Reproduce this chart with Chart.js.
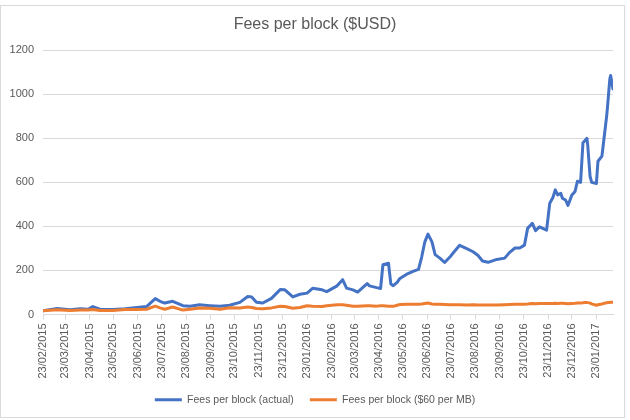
<!DOCTYPE html>
<html><head><meta charset="utf-8">
<script src="https://cdn.jsdelivr.net/npm/chart.js@4/dist/chart.umd.min.js"></script>
<style>html,body{margin:0;padding:0;background:#fff}</style>
</head><body>
<canvas id="c" width="630" height="420"></canvas>
<script>
const tickLabels = ["23/02/2015","23/03/2015","23/04/2015","23/05/2015","23/06/2015","23/07/2015","23/08/2015","23/09/2015","23/10/2015","23/11/2015","23/12/2015","23/01/2016","23/02/2016","23/03/2016","23/04/2016","23/05/2016","23/06/2016","23/07/2016","23/08/2016","23/09/2016","23/10/2016","23/11/2016","23/12/2016","23/01/2017"];

const dates = ["2015-02-23","2015-03-13","2015-03-29","2015-04-11","2015-04-21","2015-04-27","2015-05-06","2015-05-22","2015-06-07","2015-06-22",
"2015-07-04","2015-07-15","2015-07-21","2015-07-27","2015-08-06","2015-08-19","2015-08-28","2015-09-09","2015-09-22","2015-10-05",
"2015-10-17","2015-10-30","2015-11-09","2015-11-14","2015-11-20","2015-11-28","2015-12-09","2015-12-20","2015-12-26","2016-01-05",
"2016-01-14","2016-01-23","2016-01-30","2016-02-11","2016-02-17","2016-03-01","2016-03-08","2016-03-13","2016-03-21","2016-03-27",
"2016-04-08","2016-04-11","2016-04-20","2016-04-25","2016-04-28","2016-05-05","2016-05-08","2016-05-11","2016-05-16","2016-05-19",
"2016-05-29","2016-06-05","2016-06-12","2016-06-16","2016-06-20","2016-06-24","2016-06-29","2016-07-03","2016-07-09","2016-07-15",
"2016-07-22","2016-07-25","2016-08-03","2016-08-12","2016-08-20","2016-08-26","2016-09-01","2016-09-08","2016-09-19","2016-09-29",
"2016-10-05","2016-10-12","2016-10-18","2016-10-24","2016-10-28","2016-11-03","2016-11-07","2016-11-12","2016-11-21","2016-11-25",
"2016-11-29","2016-12-02","2016-12-05","2016-12-09","2016-12-11","2016-12-15","2016-12-18","2016-12-23","2016-12-27","2016-12-30",
"2017-01-03","2017-01-06","2017-01-08","2017-01-11","2017-01-12","2017-01-15","2017-01-17","2017-01-23","2017-01-25","2017-01-30",
"2017-02-01","2017-02-05","2017-02-06","2017-02-09","2017-02-10","2017-02-13"];

const actual = [17,27,22,26,24,36,24,23,26,32,
36,72,60,52,60,40,37,44,40,37,
42,55,82,80,56,52,73,113,112,80,
92,97,119,112,104,130,158,120,112,102,
140,130,122,118,226,233,138,131,146,162,
185,196,205,261,330,365,330,272,256,236,
262,276,314,299,285,269,243,237,250,256,
281,302,302,315,391,414,381,398,383,505,
531,566,543,550,528,520,495,543,559,605,
600,780,787,800,770,627,600,595,696,719,
780,902,940,1070,1085,1024];

const capped = [17,22,18,20,20,23,18,18,23,23,
24,38,30,24,34,20,24,30,28,24,
31,30,34,32,27,26,30,37,36,28,
32,40,38,36,40,44,44,42,37,37,
40,40,38,40,40,38,37,37,42,45,
46,46,47,48,50,52,48,47,46,45,
44,44,44,43,44,43,43,43,43,44,
45,46,46,47,48,50,49,50,50,50,
50,51,50,51,51,50,49,50,51,52,
52,53,54,55,54,52,48,42,44,48,
50,53,54,55,56,56];

const seriesNames = ["Fees per block (actual)", "Fees per block ($60 per MB)"];
const chartTitle = "Fees per block ($USD)";

const DAY = 86400000;
const t0 = Date.UTC(2015, 1, 23);
const fromIso = s => { const [y,m,d] = s.split('-').map(Number); return (Date.UTC(y,m-1,d) - t0) / DAY; };
const fromDmy = s => { const [d,m,y] = s.split('/').map(Number); return (Date.UTC(y,m-1,d) - t0) / DAY; };
const tickPos = tickLabels.map(fromDmy);
const xs = dates.map(fromIso);

const F = "'Liberation Sans', Arial, sans-serif";
const TXT = '#595959';
const GRID = '#d9d9d9';

const frame = {
  id: 'frame',
  beforeDraw(chart) {
    const c = chart.ctx;
    c.save();
    c.fillStyle = '#fff';
    c.fillRect(0, 0, chart.width, chart.height);
    c.strokeStyle = GRID;
    c.lineWidth = 1;
    c.strokeRect(0.5, 5.5, 624, 412);
    c.restore();
  }
};

new Chart(document.getElementById('c'), {
  type: 'line',
  data: {
    datasets: [
      { label: seriesNames[0], data: xs.map((x,i) => ({x, y: actual[i]})), borderColor: '#4472C4', backgroundColor: '#4472C4', borderWidth: 3, pointRadius: 0, tension: 0, borderJoinStyle: 'round', borderCapStyle: 'round', order: 1 },
      { label: seriesNames[1], data: xs.map((x,i) => ({x, y: capped[i]})), borderColor: '#ED7D31', backgroundColor: '#ED7D31', borderWidth: 3, pointRadius: 0, tension: 0, borderJoinStyle: 'round', borderCapStyle: 'round', order: 0 }
    ]
  },
  options: {
    responsive: false,
    animation: false,
    devicePixelRatio: 1,
    layout: { padding: { top: 4, right: 0, bottom: 5, left: 0 } },
    plugins: {
      tooltip: { enabled: false },
      title: { display: true, text: chartTitle, color: TXT, font: { family: F, size: 16, weight: 'normal' }, padding: { top: 11, bottom: 16 } },
      legend: {
        position: 'bottom',
        labels: {
          boxWidth: 27, boxHeight: 3, padding: 16, color: TXT,
          font: { family: F, size: 10.5 },
          generateLabels(chart) {
            return chart.data.datasets.map((ds, i) => ({ text: ds.label, fillStyle: ds.borderColor, strokeStyle: ds.borderColor, lineWidth: 0, hidden: false, datasetIndex: i, fontColor: TXT }));
          }
        }
      }
    },
    scales: {
      x: {
        type: 'linear', min: 0, max: xs[xs.length - 1],
        afterBuildTicks(s) { s.ticks = tickPos.map(v => ({ value: v })); },
        afterFit(s) { s.height = 64; },
        ticks: { autoSkip: false, minRotation: 90, maxRotation: 90, padding: 4, color: TXT, font: { family: F, size: 11 },
          callback: (v) => { const k = tickPos.indexOf(v); return k >= 0 ? tickLabels[k] : ''; } },
        grid: { drawOnChartArea: false, drawTicks: true, tickLength: 5, color: GRID },
        border: { color: GRID }
      },
      y: {
        min: 0, max: 1200,
        afterFit(s) { s.width = 43; },
        ticks: { stepSize: 200, padding: 9, color: TXT, font: { family: F, size: 11 }, callback: v => String(v) },
        grid: { drawTicks: false, color: GRID },
        border: { display: false }
      },
      yRight: {
        position: 'right', min: 0, max: 1200,
        afterFit(s) { s.width = 17; },
        ticks: { display: false },
        grid: { display: false, drawTicks: false },
        border: { display: false }
      }
    }
  },
  plugins: [frame]
});
</script>
</body></html>
